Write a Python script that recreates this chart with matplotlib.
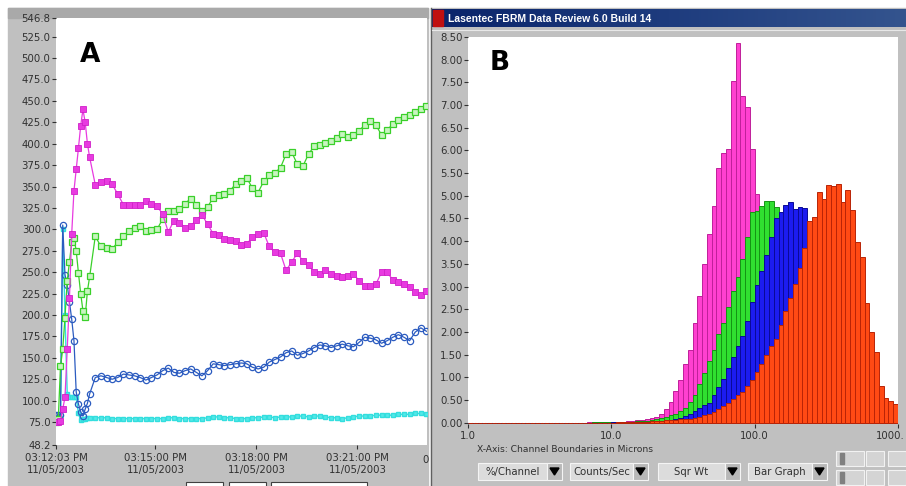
import numpy as np
import matplotlib.pyplot as plt
from matplotlib.patches import Rectangle, Polygon
from matplotlib.colors import LinearSegmentedColormap

W, H = 906, 486

# ---- panel A : counts vs time (seconds after 03:12:03 PM) ----
times = [0, 4, 8, 12, 16, 20, 24, 28, 32, 36, 40, 44, 48, 52, 56, 60,
         70, 80, 90, 100, 110, 120, 130, 140, 150, 160,
         170, 180, 190, 200, 210, 220, 230, 240, 250, 260,
         270, 280, 290, 300, 310, 320, 330, 340, 350, 360,
         370, 380, 390, 400, 410, 420, 430, 440, 450, 460,
         470, 480, 490, 500, 510, 520, 530, 540, 550, 560,
         570, 580, 590, 600, 610, 620, 630, 640, 650, 660]

magenta_a = [75, 75, 76, 90, 104, 160, 220, 295, 345, 370, 395, 421, 440, 425, 400, 384,
             352, 355, 357, 353, 341, 329, 328, 329, 328, 333,
             330, 327, 318, 297, 310, 308, 302, 304, 311, 317,
             306, 295, 293, 289, 288, 286, 282, 283, 291, 295,
             296, 280, 273, 272, 252, 262, 272, 263, 258, 250,
             248, 253, 248, 246, 244, 246, 248, 240, 234, 234,
             236, 250, 250, 241, 238, 236, 233, 227, 223, 228]

green_a = [75, 78, 140, 160, 197, 240, 262, 285, 290, 275, 249, 225, 205, 198, 228, 245,
           292, 280, 278, 277, 285, 292, 298, 302, 304, 298,
           299, 300, 312, 322, 321, 324, 330, 336, 329, 322,
           326, 337, 340, 341, 345, 353, 356, 360, 348, 343,
           356, 363, 366, 372, 388, 390, 376, 374, 388, 397,
           398, 401, 403, 407, 411, 408, 410, 415, 422, 426,
           422, 410, 416, 423, 428, 431, 434, 437, 440, 444]

blue_a = [83, 83, 83, 305, 247, 235, 215, 195, 170, 110, 96, 87, 82, 90, 97, 108,
          127, 129, 127, 125, 127, 131, 130, 129, 127, 124,
          127, 130, 135, 138, 133, 132, 135, 137, 133, 129,
          135, 143, 142, 141, 142, 143, 144, 143, 139, 137,
          139, 145, 148, 151, 156, 158, 153, 155, 158, 162,
          165, 164, 162, 164, 166, 164, 163, 168, 174, 173,
          171, 167, 170, 174, 177, 174, 170, 180, 185, 181]

cyan_a = [78, 78, 80, 300, 200, 108, 104, 104, 104, 104, 85, 77, 78, 79, 80, 80,
          80, 80, 80, 79, 79, 79, 79, 79, 79, 79,
          79, 79, 79, 80, 80, 79, 79, 79, 79, 79,
          80, 81, 81, 80, 80, 79, 79, 79, 80, 80,
          81, 81, 80, 81, 81, 81, 82, 82, 81, 82,
          82, 81, 80, 80, 79, 80, 81, 82, 82, 82,
          83, 83, 83, 83, 84, 84, 84, 85, 85, 84]

time_ticks = [0, 177, 357, 537]
time_labels = ['03:12:03 PM\n11/05/2003', '03:15:00 PM\n11/05/2003',
               '03:18:00 PM\n11/05/2003', '03:21:00 PM\n11/05/2003']
a_yticks = [48.2, 75, 100, 125, 150, 175, 200, 225, 250, 275, 300, 325, 350,
            375, 400, 425, 450, 475, 500, 525, 546.8]

# ---- panel B : chord length distributions, 90 log channels 1-1000 um ----
edges = np.logspace(0, 3, 91)

mag_b = [0] * 25 + [0.005, 0.005, 0.01, 0.01, 0.015,
         0.02, 0.02, 0.025, 0.03, 0.04, 0.05, 0.06, 0.08, 0.1, 0.12,
         0.2, 0.3, 0.45, 0.7, 0.95, 1.3, 1.6, 2.2, 2.8, 3.5,
         4.16, 4.78, 5.61, 5.94, 6.03, 7.52, 8.37, 7.21, 6.95, 6.03,
         5.04, 4.4, 3.8, 3.2, 2.6, 2.0, 1.5, 1.1, 0.8, 0.5,
         0.3, 0.2, 0.1, 0.05, 0, 0, 0, 0, 0, 0,
         0, 0, 0, 0, 0, 0, 0, 0, 0, 0]

grn_b = [0] * 25 + [0.003, 0.004, 0.005, 0.006, 0.008,
         0.01, 0.015, 0.02, 0.02, 0.025, 0.03, 0.035, 0.04, 0.05, 0.07,
         0.1, 0.13, 0.16, 0.19, 0.25, 0.32, 0.45, 0.6, 0.85, 1.1,
         1.35, 1.6, 1.95, 2.2, 2.55, 2.9, 3.2, 3.6, 4.1, 4.64,
         4.67, 4.78, 4.89, 4.89, 4.75, 4.5, 4.2, 3.8, 3.3, 2.8,
         2.3, 1.8, 1.4, 1.0, 0.7, 0.5, 0.3, 0.2, 0.1, 0.05,
         0.03, 0.02, 0.01, 0, 0, 0, 0, 0, 0, 0]

blu_b = [0] * 30 + [0.005, 0.008, 0.01, 0.012, 0.015, 0.018, 0.02, 0.022, 0.025, 0.028,
         0.03, 0.04, 0.06, 0.08, 0.11, 0.15, 0.19, 0.25, 0.32, 0.38,
         0.44, 0.6, 0.78, 0.96, 1.2, 1.45, 1.68, 1.9, 2.25, 2.65,
         3.04, 3.35, 3.7, 4.1, 4.5, 4.64, 4.79, 4.87, 4.71, 4.75,
         4.72, 4.4, 4.3, 4.0, 3.6, 3.2, 2.8, 2.4, 2.0, 1.6,
         1.2, 0.9, 0.6, 0.4, 0.25, 0.15, 0.08, 0.04, 0.02, 0.01]

red_b = [0] * 30 + [0.003, 0.004, 0.005, 0.006, 0.008, 0.01, 0.015, 0.02, 0.03, 0.035,
         0.04, 0.05, 0.055, 0.06, 0.07, 0.08, 0.09, 0.11, 0.13, 0.16,
         0.19, 0.24, 0.3, 0.37, 0.44, 0.52, 0.6, 0.67, 0.8, 0.95,
         1.11, 1.3, 1.5, 1.68, 1.85, 2.15, 2.45, 2.75, 3.05, 3.4,
         3.85, 4.45, 4.53, 5.08, 4.93, 5.24, 5.22, 5.26, 4.86, 5.13,
         4.69, 3.98, 3.65, 2.63, 2.0, 1.55, 0.81, 0.54, 0.48, 0.40]

b_yticks = [0.0, 0.5, 1.0, 1.5, 2.0, 2.5, 3.0, 3.5, 4.0, 4.5, 5.0, 5.5, 6.0,
            6.5, 7.0, 7.5, 8.0, 8.5]
b_xticks = [1, 10, 100, 1000]
b_xlabels = ['1.0', '10.0', '100.0', '']
buttons = ['%/Channel', 'Counts/Sec', 'Sqr Wt', 'Bar Graph']

GRAY = '#c0c0c0'
TXT = '#303030'
FS = 7.3

fig = plt.figure(figsize=(W / 100, H / 100), dpi=100, facecolor='white')


def pax(x0, y0, x1, y1):
    # axes placed in pixel coordinates (origin top-left)
    return fig.add_axes([x0 / W, 1 - y1 / H, (x1 - x0) / W, (y1 - y0) / H])


def overlay(z):
    ax = pax(0, 0, W, H)
    ax.set_zorder(z)
    ax.patch.set_visible(False)
    ax.set_xlim(0, W)
    ax.set_ylim(H, 0)
    ax.axis('off')
    return ax


bg = overlay(0)
# window frames
bg.add_patch(Rectangle((8, 8), 420, 480, color=GRAY))
bg.add_patch(Rectangle((8, 8), 420, 10, color='#a9a9a9'))
bg.add_patch(Rectangle((431, 8), 475, 480, color=GRAY))
bg.plot([431, 431], [8, 486], color='#606060', lw=1)
cmap = LinearSegmentedColormap.from_list('tb', ['#0a246a', '#1e3c7e', '#34548e'])
bg.imshow(np.linspace(0, 1, 256)[None, :], extent=[432, 906, 27, 9],
          aspect='auto', cmap=cmap, zorder=1)
bg.add_patch(Rectangle((433, 10), 10, 16, color='#c01010', zorder=2))
bg.plot([432, 906], [30, 30], color='#e8e8e8', lw=0.8)
# control buttons under panel B
bx = [(478, 547, 562), (570, 633, 648), (658, 725, 740), (748, 812, 827)]
for (x0, x1, x2), lab in zip(bx, buttons):
    bg.add_patch(Rectangle((x0, 463), x1 - x0, 17, facecolor='#dcdcdc',
                           edgecolor='#f4f4f4', lw=0.8))
    bg.add_patch(Rectangle((x1, 463), x2 - x1, 17, facecolor='#b8b8b8',
                           edgecolor='#f4f4f4', lw=0.8))
    xm = (x1 + x2) / 2
    bg.add_patch(Polygon([(xm - 4.5, 468), (xm + 4.5, 468), (xm, 475)],
                         color='black'))
    bg.text((x0 + x1) / 2, 471.5, lab, ha='center', va='center',
            fontsize=FS, color=TXT)
# small cursor controls at bottom right
for x0, y0, w, h in [(836, 451, 28, 15), (836, 470, 28, 15),
                     (866, 451, 18, 15), (866, 470, 18, 15), (888, 451, 18, 15),
                     (888, 470, 18, 15)]:
    bg.add_patch(Rectangle((x0, y0), w, h, facecolor='#d4d4d4',
                           edgecolor='#f2f2f2', lw=0.8))
bg.add_patch(Rectangle((840, 453), 4, 11, color='#808080'))
bg.add_patch(Rectangle((840, 472), 4, 11, color='#808080'))
# boxes peeking at the bottom of panel A
for x0, x1 in [(186, 223), (229, 266), (271, 367)]:
    bg.add_patch(Rectangle((x0, 482), x1 - x0, 10, facecolor='white',
                           edgecolor='#404040', lw=0.8))

# ---- panel A ----
axa = pax(56, 18, 427, 445)
axa.set_zorder(2)
axa.set_facecolor('white')
axa.plot(times, cyan_a, color='#33dede', lw=1.0, marker='s', ms=2.5,
         mfc='#55e8e8', mec='#33dede', zorder=3)
axa.plot(times, blue_a, color='#2c5cc0', lw=0.9, marker='o', ms=4.5,
         mfc='none', mec='#2c5cc0', mew=0.9, zorder=4)
axa.plot(times, green_a, color='#3ad02a', lw=0.9, marker='s', ms=4.5,
         mfc='#c8f4c0', mec='#3ad02a', mew=0.9, zorder=5)
axa.plot(times, magenta_a, color='#e83ae0', lw=0.9, marker='s', ms=4.5,
         mfc='#e83ae0', mec='#d020c8', mew=0.6, zorder=6)
axa.set_xlim(0, 661)
axa.set_ylim(48.2, 546.8)
axa.set_yticks(a_yticks)
axa.set_yticklabels([f'{v:.1f}' for v in a_yticks])
axa.set_xticks(time_ticks)
axa.set_xticklabels(time_labels, linespacing=1.25)
axa.tick_params(axis='y', length=3, width=0.8, color=TXT, labelsize=FS,
                labelcolor=TXT, pad=1)
axa.tick_params(axis='x', length=3, width=0.8, color=TXT, labelsize=FS,
                labelcolor=TXT, pad=3)
for s in axa.spines.values():
    s.set_visible(False)

# ---- panel B ----
axb = pax(468, 37, 898, 424)
axb.set_zorder(2)
axb.set_facecolor('white')
axb.axhline(0, color='#d86060', lw=0.8, ls=(0, (1, 2)), zorder=1)
series_b = [(mag_b, '#ff40d0', '#c0209a'), (grn_b, '#30e030', '#149414'),
            (blu_b, '#1c1cf0', '#0a0a98'), (red_b, '#ff4a14', '#b82406')]
for vals, col, edge in series_b:
    axb.bar(edges[:-1], vals, width=np.diff(edges), align='edge',
            color=col, edgecolor=edge, linewidth=0.7, zorder=2)
axb.set_xscale('log')
axb.set_xlim(1, 1000)
axb.set_ylim(-0.03, 8.5)
axb.set_yticks(b_yticks)
axb.set_yticklabels([f'{v:.2f}' for v in b_yticks])
axb.set_xticks(b_xticks)
axb.set_xticklabels(b_xlabels)
axb.xaxis.set_minor_locator(plt.NullLocator())
axb.tick_params(axis='y', length=3, width=0.8, color=TXT, labelsize=FS,
                labelcolor=TXT, pad=1)
axb.tick_params(axis='x', length=3, width=0.8, color=TXT, labelsize=FS,
                labelcolor=TXT, pad=2)
for s in axb.spines.values():
    s.set_visible(False)

# ---- texts on top ----
fg = overlay(5)
fg.text(80, 62, 'A', fontsize=19, fontweight='bold', ha='left', va='baseline')
fg.text(490, 70, 'B', fontsize=19, fontweight='bold', ha='left', va='baseline')
fg.text(448, 18.5, 'Lasentec FBRM Data Review 6.0 Build 14', color='white',
        fontsize=7.5, fontweight='bold', ha='left', va='center',
        family='Liberation Sans')
fg.text(477, 449, 'X-Axis: Channel Boundaries in Microns', fontsize=6.6,
        color=TXT, ha='left', va='center')
fg.text(422, 460, '0', fontsize=FS, color=TXT, ha='left', va='center')
fg.text(905, 436, '1000.', fontsize=FS, color=TXT, ha='right', va='center')

fig.savefig('out.png', dpi=100)
